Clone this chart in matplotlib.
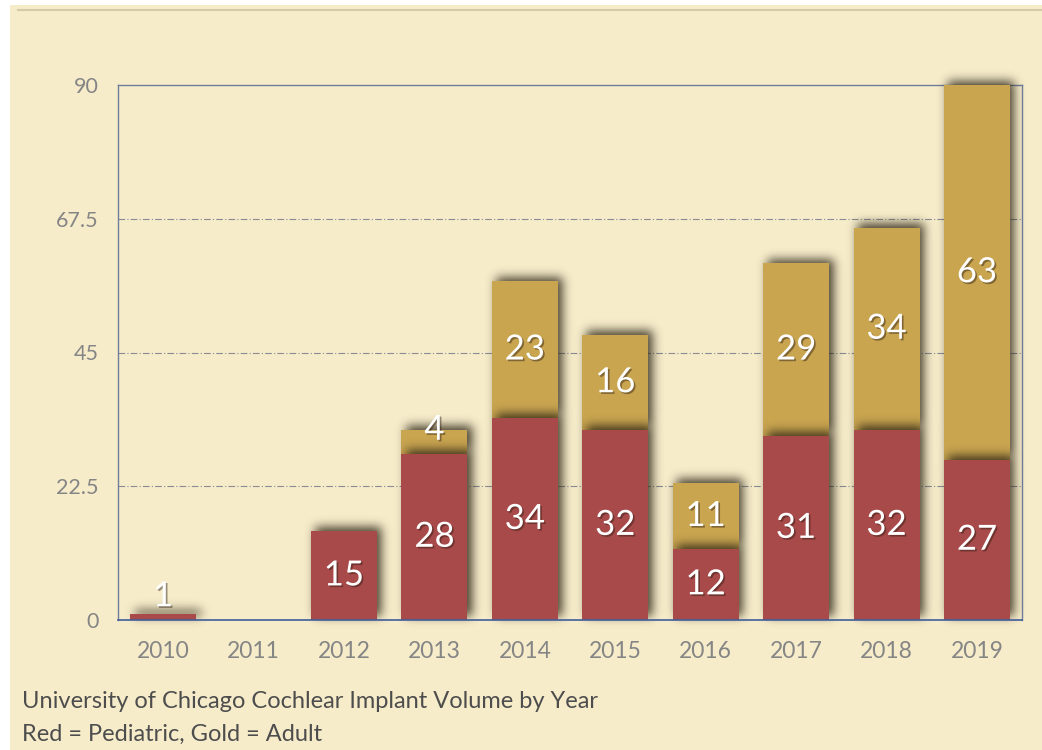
import numpy as np
import matplotlib
matplotlib.use("Agg")
import matplotlib.pyplot as plt
from matplotlib.patches import Rectangle
import matplotlib.patheffects as pe
from matplotlib.lines import Line2D

# data
years = ["2010", "2011", "2012", "2013", "2014", "2015", "2016", "2017", "2018", "2019"]
pediatric = [1, 0, 15, 28, 34, 32, 12, 31, 32, 27]
adult = [0, 0, 0, 4, 23, 16, 11, 29, 34, 63]
yticks = [0, 22.5, 45, 67.5, 90]
ytick_labels = ["0", "22.5", "45", "67.5", "90"]

bg = "#f6ecca"
red = "#a84a4a"
gold = "#c9a550"

plt.rcParams["font.family"] = ["Lato", "DejaVu Sans"]

fig = plt.figure(figsize=(10.42, 7.5), dpi=100)
fig.patch.set_facecolor("white")
# cream paper with thin white margin on the left/top
fig.patches.append(Rectangle((10 / 1042, 0), 1, 1 - 5 / 750, transform=fig.transFigure,
                             facecolor=bg, edgecolor="none", zorder=-2))
fig.lines.append(Line2D([18 / 1042, 1], [1 - 10 / 750] * 2, transform=fig.transFigure,
                        color="#d6c9a6", linewidth=1.5, zorder=-1))

ax = fig.add_axes([0.1132, 0.1733, 0.8678, 0.7134])
ax.set_facecolor("none")
width = 0.73
x = np.arange(len(years))

# soft blurred drop shadows (rendered as an image)
ppx = 904 / 10   # pixels per x unit
ppy = 535 / 90   # pixels per y unit
ex = (-0.6, 9.6)
ey = (-2.0, 95.0)
nx = int((ex[1] - ex[0]) * ppx)
ny = int((ey[1] - ey[0]) * ppy)
gx = np.linspace(ex[0], ex[1], nx)
gy = np.linspace(ey[0], ey[1], ny)
GX, GY = np.meshgrid(gx, gy)


def blur(a, sigma):
    r = int(sigma * 3)
    t = np.arange(-r, r + 1)
    k = np.exp(-t ** 2 / (2 * sigma ** 2))
    k /= k.sum()
    a = np.apply_along_axis(lambda v: np.convolve(v, k, mode="same"), 0, a)
    a = np.apply_along_axis(lambda v: np.convolve(v, k, mode="same"), 1, a)
    return a


def shadow_image(bottoms, heights, zorder):
    dx, dy = 4 / ppx, 4 / ppy
    m = np.zeros_like(GX)
    for i in x:
        if heights[i] <= 0:
            continue
        x0 = i - width / 2 + dx
        y0 = bottoms[i] + dy
        m[(GX >= x0) & (GX <= x0 + width) & (GY >= y0) & (GY <= y0 + heights[i])] = 1
    m = blur(m, 5.0)
    img = np.zeros((ny, nx, 4))
    img[..., 0] = 0.17
    img[..., 1] = 0.14
    img[..., 2] = 0.08
    img[..., 3] = np.clip(m * 0.85, 0, 1)
    ax.imshow(img, extent=(ex[0], ex[1], ey[0], ey[1]), origin="lower",
              aspect="auto", zorder=zorder, clip_on=False, interpolation="bilinear")


shadow_image(pediatric, adult, 2)
for i in x:
    if adult[i] > 0:
        ax.add_patch(Rectangle((i - width / 2, pediatric[i]), width, adult[i],
                               facecolor=gold, edgecolor="none", zorder=3, clip_on=False))
shadow_image([0] * len(x), pediatric, 4)
for i in x:
    if pediatric[i] > 0:
        ax.add_patch(Rectangle((i - width / 2, 0), width, pediatric[i],
                               facecolor=red, edgecolor="none", zorder=5))

ax.set_xlim(-0.5, 9.5)
ax.set_ylim(0, 90)

# value labels
for i in x:
    for bottom, v in [(0, pediatric[i]), (pediatric[i], adult[i])]:
        if v <= 0:
            continue
        yv = max(bottom + v / 2, bottom + 4)
        t = ax.text(i, yv, str(v), ha="center", va="center", color="white",
                    fontsize=25, zorder=10)
        t.set_path_effects([pe.withSimplePatchShadow(offset=(1.2, -1.2),
                                                     shadow_rgbFace="#2a1a10", alpha=0.45)])

# grid
for yv in yticks[1:-1]:
    ax.axhline(yv, color="#8a8c94", linestyle=(0, (6, 2, 1, 2)), linewidth=0.8, zorder=1)

for s in ["top", "right", "left"]:
    ax.spines[s].set_color("#6f7d9c")
    ax.spines[s].set_linewidth(1.0)
    ax.spines[s].set_zorder(1)
ax.spines["bottom"].set_color("#3f5f99")
ax.spines["bottom"].set_linewidth(1.2)
ax.spines["bottom"].set_zorder(6)

ax.set_xticks(x)
ax.set_xticklabels(years)
ax.set_yticks(yticks)
ax.set_yticklabels(ytick_labels)
ax.tick_params(length=0, labelsize=15.5, labelcolor="#858585")
ax.tick_params(axis="x", pad=15, labelsize=16.5)
ax.tick_params(axis="y", pad=14)

fig.text(0.021, 0.064, "University of Chicago Cochlear Implant Volume by Year",
         fontsize=17, color="#4d4d4d", va="center")
fig.text(0.021, 0.021, "Red = Pediatric, Gold = Adult",
         fontsize=17, color="#4d4d4d", va="center")

fig.savefig("out.png", dpi=100, facecolor="white")
